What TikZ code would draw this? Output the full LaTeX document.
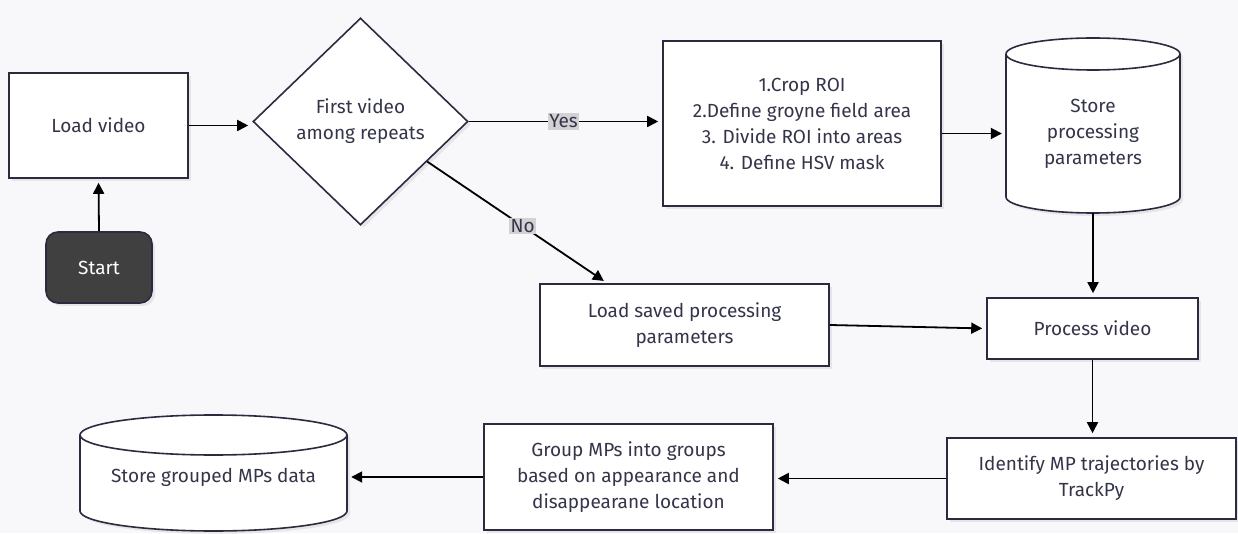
\documentclass[tikz,border=0pt]{standalone}
\usepackage{fontspec}
\setmainfont{Fira Sans}
\usetikzlibrary{arrows.meta,shapes.geometric,shadows}
\definecolor{bgc}{HTML}{F8F8FA}
\definecolor{edgec}{HTML}{2B2B40}
\definecolor{txtc}{HTML}{35354A}
\definecolor{startc}{HTML}{404040}
\definecolor{lblc}{HTML}{D2D2D4}
\tikzset{
  x=1pt, y=1pt,
  every node/.style={font=\fontsize{19}{26}\selectfont, text=txtc, align=center},
  shd/.style={drop shadow={shadow xshift=3pt, shadow yshift=-3pt, fill=black, opacity=0.07}},
  procbox/.style={rectangle, draw=edgec, line width=1.6pt, fill=white, shd, inner sep=0pt},
  startbox/.style={rectangle, rounded corners=12pt, draw=edgec, line width=1.6pt, fill=startc, text=white, inner sep=0pt, shd},
  decbox/.style={diamond, draw=edgec, line width=1.6pt, fill=white, inner sep=0pt, shd},
  cylarea/.style={rectangle, inner sep=0pt},
  cylline/.style={draw=edgec, line width=1.6pt},
  conn/.style={-{Triangle[length=11pt,width=11pt]}, line width=1.8pt, black, shorten >=4pt},
  lbl/.style={fill=lblc, inner sep=1.5pt, font=\fontsize{19}{22}\selectfont},
}
\begin{document}
\begin{tikzpicture}
\fill[bgc] (0,0) rectangle (1238,533);
\useasboundingbox (0,0) rectangle (1238,533);

% cylinder bodies
\path[cylline, fill=white, shd] (1006,479) -- (1006,336) arc[start angle=180, end angle=360, x radius=87, y radius=16] -- (1180,479) arc[start angle=0, end angle=180, x radius=87, y radius=16] -- cycle;
\draw[cylline] (1006,479) arc[start angle=180, end angle=360, x radius=87, y radius=16];
\path[cylline, fill=white, shd] (80,98) -- (80,22) arc[start angle=180, end angle=360, x radius=133.5, y radius=20] -- (347,98) arc[start angle=0, end angle=180, x radius=133.5, y radius=20] -- cycle;
\draw[cylline] (80,98) arc[start angle=180, end angle=360, x radius=133.5, y radius=20];

% nodes
\node[procbox, minimum width=179pt, minimum height=105pt] (lv) at (98.5,407.5) {Load video};
\node[startbox, minimum width=106pt, minimum height=71pt] (st) at (99,265.5) {Start};
\node[decbox, minimum width=215pt, minimum height=207pt] (dec) at (360.5,411.5) {First video\\among repeats};
\node[procbox, minimum width=278pt, minimum height=165pt] (steps) at (802,409.5) {1.Crop ROI\\2.Define groyne field area\\3. Divide ROI into areas\\4. Define HSV mask};
\node[cylarea, minimum width=174pt, minimum height=159pt] (cyla) at (1093,399.5) {Store\\processing\\parameters};
\node[procbox, minimum width=289pt, minimum height=82pt] (lsp) at (684.5,208) {Load saved processing\\parameters};
\node[procbox, minimum width=211pt, minimum height=61pt] (pv) at (1092.5,204.5) {Process video};
\node[procbox, minimum width=289pt, minimum height=81pt] (idt) at (1091.5,54.5) {Identify MP trajectories by\\TrackPy};
\node[procbox, minimum width=289pt, minimum height=106pt] (grp) at (628.5,56) {Group MPs into groups\\based on appearance and\\disappearane location};
\node[cylarea, minimum width=267pt, minimum height=108pt] (cylb) at (213.5,56) {Store grouped MPs data};

% connectors
\draw[conn] (st.north) -- (lv.south);
\draw[conn] (lv.east) -- (lv.east -| dec.west);
\draw[conn] (dec.east) -- node[lbl, pos=0.49] {Yes} (dec.east -| steps.west);
\draw[conn] (dec.-31) -- node[lbl, pos=0.53] {No} ([xshift=68pt]lsp.north west);
\draw[conn] (steps.east |- cyla.west) -- (cyla.west);
\draw[conn] (cyla.south) -- (cyla.south |- pv.north);
\draw[conn] (lsp.east) -- (pv.west);
\draw[conn] (pv.south) -- (pv.south |- idt.north);
\draw[conn] (idt.west) -- (idt.west -| grp.east);
\draw[conn] (grp.west) -- (cylb.east);
\end{tikzpicture}
\end{document}
